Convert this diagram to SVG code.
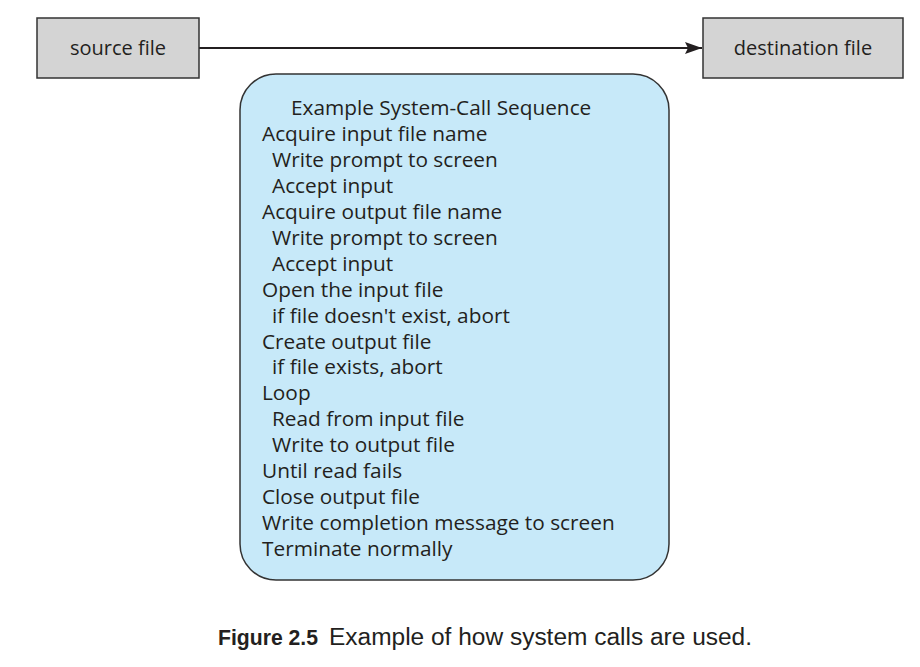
<svg xmlns="http://www.w3.org/2000/svg" width="920" height="667" viewBox="0 0 920 667">
<style>
.box{fill:#d4d4d4;stroke:#333;stroke-width:1.5}
.lbl{font-family:"Open Sans","Noto Sans",sans-serif;font-size:20px;fill:#231f20}
.seq{font-family:"Open Sans","Noto Sans",sans-serif;font-size:20.8px;fill:#231f20}
.cap{font-family:"Liberation Sans",Arial,sans-serif;font-size:23px;fill:#231f20}
</style>
<defs>
<marker id="arr" markerWidth="18" markerHeight="14" refX="17" refY="7" orient="auto" markerUnits="userSpaceOnUse">
<path d="M0,1 L17,7 L0,13 L3,7 Z" fill="#231f20"/>
</marker>
</defs>
<rect width="920" height="667" fill="#fff"/>
<g id="connectors">
<line x1="199" y1="48" x2="702" y2="48" stroke="#231f20" stroke-width="2" marker-end="url(#arr)"/>
</g>
<g id="source">
<rect class="box" x="37" y="18" width="162" height="60"/>
<text class="lbl" x="118" y="55" text-anchor="middle">source file</text>
</g>
<g id="destination">
<rect class="box" x="703" y="18" width="200" height="60"/>
<text class="lbl" x="803" y="55" text-anchor="middle">destination file</text>
</g>
<g id="sequence">
<rect x="240" y="74" width="429" height="506" rx="36" ry="36" fill="#c7e9f9" stroke="#333" stroke-width="1.5"/>
<text class="seq" x="291" y="115">Example System-Call Sequence</text>
<text class="seq" x="262" y="140.9">Acquire input file name</text>
<text class="seq" x="272" y="166.9">Write prompt to screen</text>
<text class="seq" x="272" y="192.8">Accept input</text>
<text class="seq" x="262" y="218.8">Acquire output file name</text>
<text class="seq" x="272" y="244.7">Write prompt to screen</text>
<text class="seq" x="272" y="270.6">Accept input</text>
<text class="seq" x="262" y="296.6">Open the input file</text>
<text class="seq" x="272" y="322.5">if file doesn't exist, abort</text>
<text class="seq" x="262" y="348.5">Create output file</text>
<text class="seq" x="272" y="374.4">if file exists, abort</text>
<text class="seq" x="262" y="400.3">Loop</text>
<text class="seq" x="272" y="426.3">Read from input file</text>
<text class="seq" x="272" y="452.2">Write to output file</text>
<text class="seq" x="262" y="478.2">Until read fails</text>
<text class="seq" x="262" y="504.1">Close output file</text>
<text class="seq" x="262" y="530">Write completion message to screen</text>
<text class="seq" x="262" y="556">Terminate normally</text>
</g>
<g id="caption">
<text class="cap" x="218" y="645"><tspan font-weight="bold" font-size="22px" textLength="100" lengthAdjust="spacingAndGlyphs">Figure 2.5</tspan><tspan x="329" textLength="423" lengthAdjust="spacingAndGlyphs">Example of how system calls are used.</tspan></text>
</g>
</svg>
